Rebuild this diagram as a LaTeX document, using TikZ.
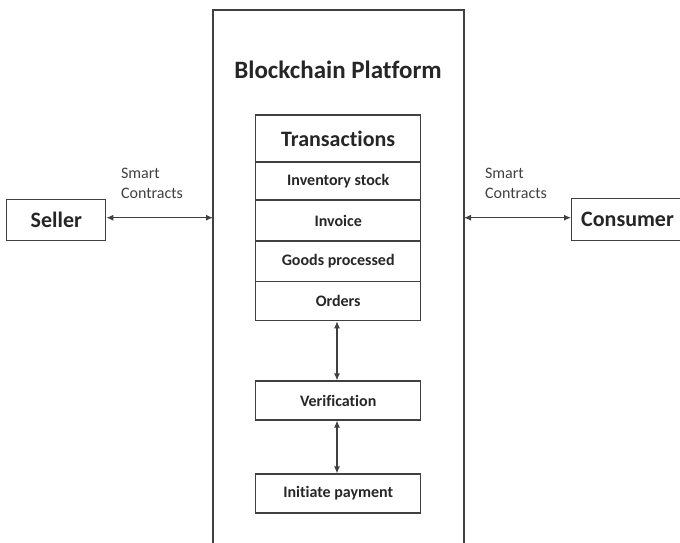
\documentclass[tikz,border=0pt]{standalone}
\usepackage{fontspec}
\setmainfont[RawFeature={-liga;-clig;-dlig}]{Carlito}
\usetikzlibrary{arrows.meta}
\definecolor{ink}{gray}{0.25}
\begin{document}
\begin{tikzpicture}[x=1pt,y=-1pt,
  line width=1.1pt,
  box/.style={draw=ink, minimum width=165pt, inner sep=0pt, text=black!85, font=\bfseries\fontsize{16}{18}\selectfont},
  side/.style={draw=ink, inner sep=0pt, text=black!85, font=\bfseries\fontsize{22}{24}\selectfont},
  link/.style={draw=ink, {Latex[length=7pt,width=6pt]}-{Latex[length=7pt,width=6pt]}},
  note/.style={text=black!75, font=\fontsize{16}{20}\selectfont, align=left, anchor=west, inner sep=0pt}]
\useasboundingbox (0,0) rectangle (680,543);
% platform frame, open at the bottom
\draw[ink] (213,560) -- (213,10) -- (464,10) -- (464,560);
\node[text=black!85, font=\bfseries\fontsize{25}{28}\selectfont] (title) at (338,70) {Blockchain Platform};
% transaction ledger stack
\node[box, minimum height=47pt, font=\bfseries\fontsize{22}{24}\selectfont] (tx) at (338.2,138.5) {Transactions};
\node[box, minimum height=38.5pt] (inv) at (338.2,181) {Inventory stock};
\node[box, minimum height=41pt] (invc) at (338.2,220.5) {Invoice};
\node[box, minimum height=40.7pt] (goods) at (338.2,261.3) {Goods processed};
\node[box, minimum height=39pt] (orders) at (338.2,301.2) {Orders};
\node[box, minimum height=39pt] (ver) at (338.2,400.5) {Verification};
\node[box, minimum height=39pt] (pay) at (338.2,493.5) {Initiate payment};
% parties
\node[side, minimum width=99pt, minimum height=41.5pt] (seller) at (56.3,220) {Seller};
\node[side, minimum width=112pt, minimum height=42.5pt, anchor=west] (consumer) at (571,219.4) {Consumer};
\coordinate (pl) at (213,217.7);
\coordinate (pr) at (464,217.7);
\draw[link] (seller.east |- pl) -- (pl);
\draw[link] (pr) -- (consumer.west |- pr);
\node[note] (sc1) at (120.5,183) {Smart\\Contracts};
\node[note] (sc2) at (484.5,183) {Smart\\Contracts};
\draw[link] (orders.south -| 337,0) -- (ver.north -| 337,0);
\draw[link] (ver.south -| 337,0) -- (pay.north -| 337,0);
\end{tikzpicture}
\end{document}
